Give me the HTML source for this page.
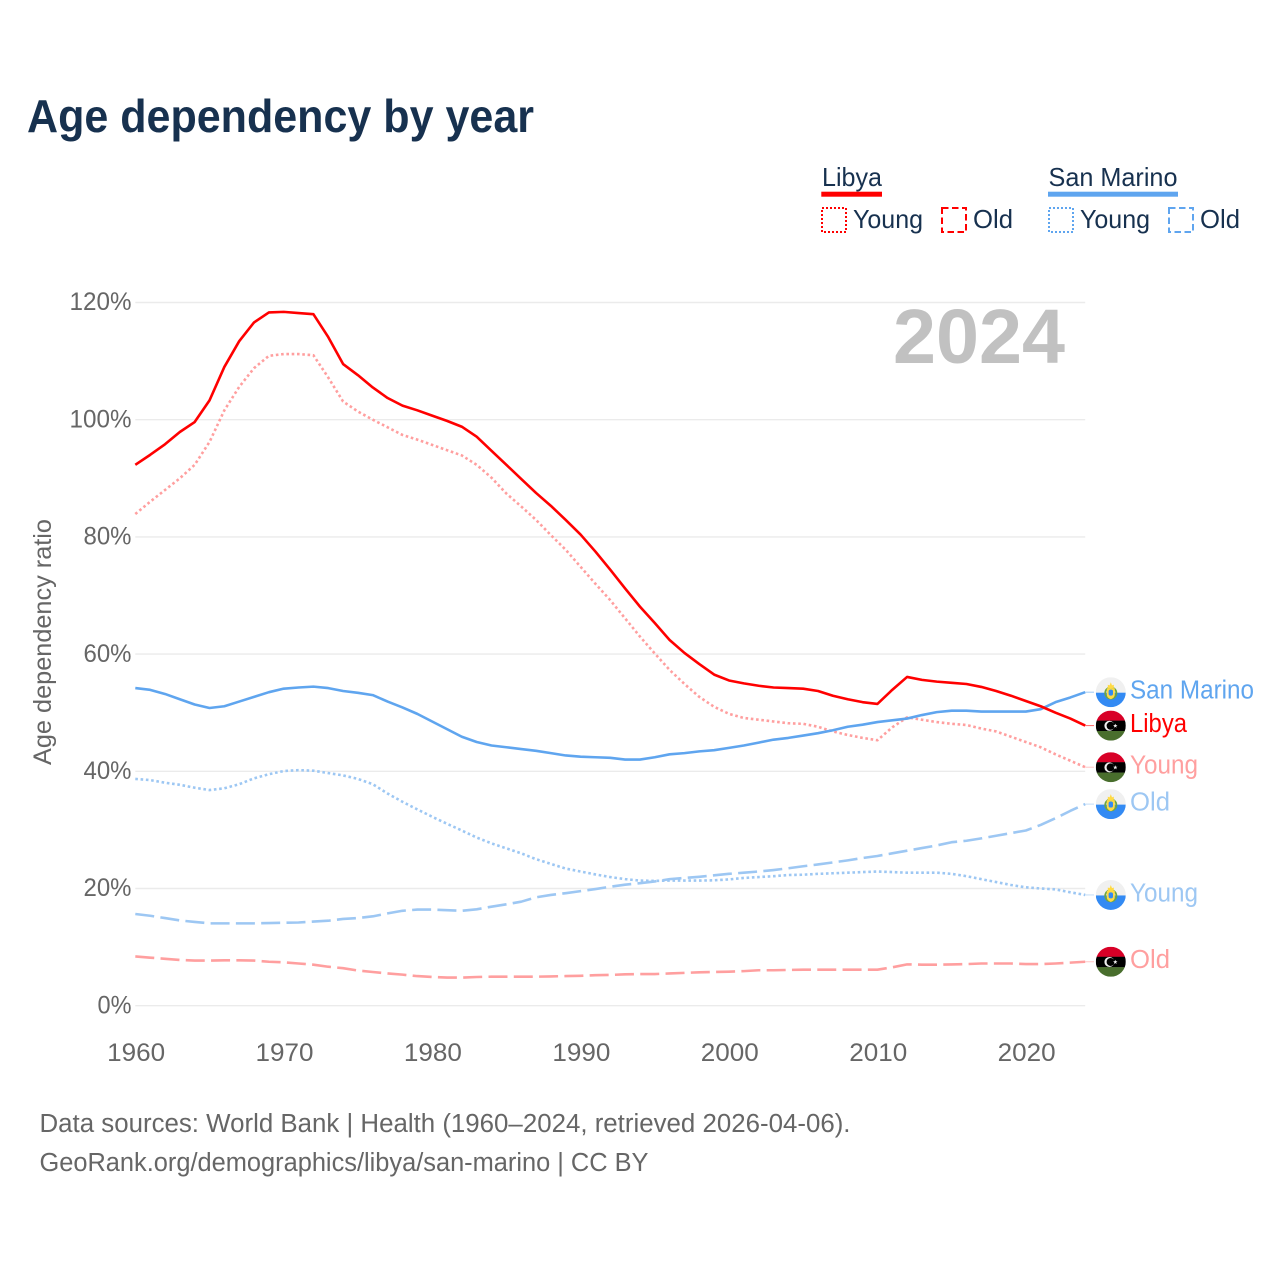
<!DOCTYPE html>
<html lang="en">
<head>
<meta charset="utf-8">
<title>Age dependency by year</title>
<style>
html,body{margin:0;padding:0;background:#fff;width:1280px;height:1280px;overflow:hidden}
svg{display:block;font-family:"Liberation Sans",sans-serif}
.dark{fill:#17314f}
.muted{fill:#666}
</style>
</head>
<body>
<svg id="chart" xmlns="http://www.w3.org/2000/svg" width="1280" height="1280" viewBox="0 0 1280 1280">
  <defs>
    <clipPath id="flag-clip"><circle cx="0" cy="0" r="15"/></clipPath>
    <g id="flag-libya" clip-path="url(#flag-clip)">
      <rect x="-15" y="-15" width="30" height="10.2" fill="#d80027"/>
      <rect x="-15" y="-5" width="30" height="10.6" fill="#000"/>
      <rect x="-15" y="5.4" width="30" height="9.6" fill="#496e2d"/>
      <circle cx="-1.4" cy="0.2" r="5" fill="#f0f0f0"/>
      <circle cx="-0.2" cy="0.2" r="4" fill="#000"/>
      <polygon points="4.5,-2 5.1,-0.5 6.7,-0.5 5.4,0.6 5.9,2.2 4.5,1.2 3.1,2.2 3.6,0.6 2.3,-0.5 3.9,-0.5" fill="#f0f0f0"/>
    </g>
    <g id="flag-san-marino" clip-path="url(#flag-clip)">
      <rect x="-15" y="-15" width="30" height="15.5" fill="#f0f0f0"/>
      <rect x="-15" y="0.5" width="30" height="14.5" fill="#338af3"/>
      <circle cx="0" cy="0.8" r="5.6" fill="none" stroke="#6da544" stroke-width="1.8"/>
      <path d="M-4,-4 L4,-4 L4,2 Q4,5.5 0,7 Q-4,5.5 -4,2 Z" fill="#ffda44"/>
      <path d="M-3,-4 L-3,-7.5 L-1.2,-6.8 L0,-10 L1.2,-6.8 L3,-7.5 L3,-4 Z" fill="#ffda44"/>
      <rect x="-2.2" y="-2.6" width="4.4" height="6" rx="1.8" fill="#338af3"/>
    </g>
  </defs>

  <text class="dark" x="27" y="132" font-size="46" font-weight="700" textLength="507" lengthAdjust="spacingAndGlyphs">Age dependency by year</text>

  <g>
    <text class="dark" x="822" y="186" font-size="26" textLength="60" lengthAdjust="spacingAndGlyphs">Libya</text>
    <rect x="821.3" y="191.7" width="60.7" height="5" fill="#ff0000"/>
    <rect x="822" y="208" width="24" height="24" fill="none" stroke="#ff0000" stroke-width="2" stroke-dasharray="2 2"/>
    <text class="dark" x="853" y="228" font-size="26" textLength="70" lengthAdjust="spacingAndGlyphs">Young</text>
    <rect x="942" y="208" width="24" height="24" fill="none" stroke="#ff0000" stroke-width="2" stroke-dasharray="6.5 3.5"/>
    <text class="dark" x="973" y="228" font-size="26" textLength="40" lengthAdjust="spacingAndGlyphs">Old</text>

    <text class="dark" x="1048.5" y="186" font-size="26" textLength="129" lengthAdjust="spacingAndGlyphs">San Marino</text>
    <rect x="1048" y="191.7" width="130" height="5" fill="#5fa5ef"/>
    <rect x="1049" y="208" width="24" height="24" fill="none" stroke="#5fa5ef" stroke-width="2" stroke-dasharray="2 2"/>
    <text class="dark" x="1080" y="228" font-size="26" textLength="70" lengthAdjust="spacingAndGlyphs">Young</text>
    <rect x="1169" y="208" width="24" height="24" fill="none" stroke="#5fa5ef" stroke-width="2" stroke-dasharray="6.5 3.5"/>
    <text class="dark" x="1200" y="228" font-size="26" textLength="40" lengthAdjust="spacingAndGlyphs">Old</text>
  </g>

  <g id="grid"></g>

  <text x="893" y="363" font-size="77" font-weight="700" fill="#c1c1c1" textLength="172" lengthAdjust="spacingAndGlyphs">2024</text>

  <text class="muted" transform="translate(51,642) rotate(-90)" text-anchor="middle" font-size="25" textLength="246" lengthAdjust="spacingAndGlyphs">Age dependency ratio</text>

  <g id="y-ticks"></g>
  <g id="x-ticks"></g>
  <g id="series"></g>
  <g id="end-labels"></g>

  <text class="muted" x="39.5" y="1132" font-size="25.5" textLength="811" lengthAdjust="spacingAndGlyphs">Data sources: World Bank | Health (1960–2024, retrieved 2026-04-06).</text>
  <text class="muted" x="39.5" y="1171" font-size="25.5" textLength="609" lengthAdjust="spacingAndGlyphs">GeoRank.org/demographics/libya/san-marino | CC BY</text>
</svg>

<script>
const startYear = 1960;
const endYear = 2024;
const yTickValues = [0, 20, 40, 60, 80, 100, 120];
const xTickValues = [1960, 1970, 1980, 1990, 2000, 2010, 2020];

const libyaTotal = [92.3,94,95.8,97.9,99.6,103.3,109,113.4,116.6,118.3,118.4,118.2,118,114.1,109.5,107.6,105.5,103.7,102.4,101.6,100.7,99.8,98.8,97.1,94.7,92.3,89.9,87.5,85.3,82.9,80.4,77.5,74.4,71.2,68.1,65.3,62.4,60.2,58.3,56.5,55.5,55,54.6,54.3,54.2,54.1,53.7,52.9,52.3,51.8,51.5,53.9,56.1,55.6,55.3,55.1,54.9,54.4,53.7,52.9,52,51.1,50,49,47.8];
const libyaYoung = [83.9,86,88,90,92.3,96.2,101.6,105.6,108.8,110.9,111.2,111.2,111,107.2,103.1,101.4,100,98.7,97.4,96.6,95.7,94.8,93.9,92.3,90.1,87.4,85.2,82.9,80.3,77.8,74.9,72,69.2,66.1,63,60.1,57.3,54.9,52.7,51,49.8,49.1,48.8,48.5,48.2,48.1,47.6,46.8,46.2,45.7,45.3,47.5,49.2,48.8,48.4,48.1,47.9,47.3,46.8,45.9,45,44.1,42.9,41.8,40.7];
const libyaOld = [8.4,8.2,8,7.8,7.7,7.7,7.75,7.75,7.7,7.5,7.4,7.2,7,6.65,6.4,6,5.75,5.5,5.3,5.05,4.9,4.8,4.8,4.9,4.95,4.95,4.95,4.95,5,5.05,5.1,5.2,5.25,5.35,5.4,5.4,5.5,5.6,5.7,5.75,5.8,5.9,6.05,6.05,6.1,6.15,6.15,6.15,6.15,6.15,6.15,6.55,7.05,7,7,7.05,7.1,7.2,7.2,7.2,7.1,7.1,7.2,7.35,7.5];
const sanMarinoTotal = [54.2,53.9,53.2,52.3,51.4,50.8,51.1,51.9,52.7,53.5,54.1,54.3,54.45,54.2,53.7,53.4,53,51.9,50.9,49.8,48.5,47.2,45.9,45,44.4,44.1,43.8,43.5,43.1,42.7,42.5,42.4,42.3,42,42,42.4,42.9,43.1,43.4,43.6,44,44.4,44.9,45.4,45.7,46.1,46.5,47,47.6,47.95,48.4,48.7,49,49.6,50.1,50.35,50.35,50.2,50.2,50.2,50.2,50.6,51.8,52.6,53.5];
const sanMarinoYoung = [38.7,38.5,38.05,37.7,37.2,36.8,37.1,37.8,38.8,39.5,40.05,40.2,40.1,39.7,39.3,38.7,37.8,36.2,34.8,33.5,32.25,31.05,29.9,28.7,27.7,26.85,26,25,24.2,23.4,22.9,22.4,21.95,21.6,21.35,21.3,21.35,21.35,21.35,21.4,21.55,21.8,21.95,22.1,22.3,22.35,22.5,22.6,22.7,22.8,22.9,22.8,22.7,22.7,22.7,22.5,22.1,21.6,21.1,20.6,20.2,20,19.85,19.35,18.9];
const sanMarinoOld = [15.65,15.35,14.95,14.55,14.3,14.05,14.05,14.05,14.05,14.1,14.15,14.2,14.35,14.5,14.8,14.95,15.25,15.75,16.2,16.4,16.4,16.3,16.2,16.45,16.9,17.3,17.75,18.5,18.9,19.2,19.55,19.9,20.3,20.65,20.9,21.2,21.6,21.8,22,22.25,22.5,22.7,22.9,23.15,23.45,23.8,24.1,24.45,24.8,25.2,25.55,26,26.45,26.9,27.35,27.9,28.15,28.55,29,29.45,29.9,30.85,32,33.25,34.4];

const NS = 'http://www.w3.org/2000/svg';
const plotLeft = 135.3, plotRight = 1085.2, yZero = 1005.7, pxPerPercent = 5.86;
function xScale(year) { return plotLeft + (year - startYear) * (plotRight - plotLeft) / (endYear - startYear); }
function yScale(pct) { return yZero - pct * pxPerPercent; }

const gridGroup = document.getElementById('grid');
const yTickGroup = document.getElementById('y-ticks');
yTickValues.forEach(function (v) {
  const line = document.createElementNS(NS, 'line');
  
  
  line.setAttribute('x1', plotLeft);
  line.setAttribute('x2', plotRight);
  line.setAttribute('y1', yScale(v));
  line.setAttribute('y2', yScale(v));
  line.setAttribute('stroke', '#ebebeb');
  line.setAttribute('stroke-width', '1.4');
  gridGroup.appendChild(line);

  const label = document.createElementNS(NS, 'text');
  
  
  label.setAttribute('class', 'muted');
  label.setAttribute('x', 131.5);
  label.setAttribute('y', yScale(v) + 7.7);
  label.setAttribute('text-anchor', 'end');
  label.setAttribute('font-size', '25');
  label.setAttribute('textLength', String(v).length * 14 + 20);
  label.setAttribute('lengthAdjust', 'spacingAndGlyphs');
  label.textContent = v + '%';
  yTickGroup.appendChild(label);
});

const xTickGroup = document.getElementById('x-ticks');
xTickValues.forEach(function (v) {
  const label = document.createElementNS(NS, 'text');
  
  
  label.setAttribute('class', 'muted');
  label.setAttribute('x', xScale(v) + 0.8);
  label.setAttribute('y', 1061);
  label.setAttribute('text-anchor', 'middle');
  label.setAttribute('font-size', '25');
  label.setAttribute('textLength', '58');
  label.setAttribute('lengthAdjust', 'spacingAndGlyphs');
  label.textContent = v;
  xTickGroup.appendChild(label);
});

const dotted = '2.6 2.7';
const dashed = '19 6.3';
const seriesGroup = document.getElementById('series');
const labelGroup = document.getElementById('end-labels');

function drawSeries(name, values, color, dash, flag, text, textWidth) {
  const path = document.createElementNS(NS, 'path');
  
  
  path.setAttribute('d', values.map(function (v, i) {
    return (i ? 'L' : 'M') + xScale(startYear + i).toFixed(2) + ',' + yScale(v).toFixed(2);
  }).join(' '));
  path.setAttribute('fill', 'none');
  path.setAttribute('stroke', color);
  path.setAttribute('stroke-width', '2.6');
  path.setAttribute('stroke-linejoin', 'round');
  if (dash) path.setAttribute('stroke-dasharray', dash);
  seriesGroup.appendChild(path);

  const endY = yScale(values[values.length - 1]);

  const connector = document.createElementNS(NS, 'line');
  
  
  connector.setAttribute('x1', plotRight);
  connector.setAttribute('x2', 1094);
  connector.setAttribute('y1', endY);
  connector.setAttribute('y2', endY);
  connector.setAttribute('stroke', color);
  connector.setAttribute('stroke-width', '1');
  connector.setAttribute('opacity', '0.6');
  labelGroup.appendChild(connector);

  const icon = document.createElementNS(NS, 'use');
  
  
  icon.setAttribute('href', '#' + flag);
  icon.setAttribute('x', 1110.8);
  icon.setAttribute('y', endY);
  labelGroup.appendChild(icon);

  const label = document.createElementNS(NS, 'text');
  
  
  label.setAttribute('x', 1130);
  label.setAttribute('y', endY + 6.4);
  label.setAttribute('font-size', '25.5');
  label.setAttribute('fill', color);
  label.setAttribute('textLength', textWidth);
  label.setAttribute('lengthAdjust', 'spacingAndGlyphs');
  label.textContent = text;
  labelGroup.appendChild(label);
}

drawSeries('san-marino-old', sanMarinoOld, '#9dc7f3', dashed, 'flag-san-marino', 'Old', 40);
drawSeries('san-marino-young', sanMarinoYoung, '#9dc7f3', dotted, 'flag-san-marino', 'Young', 68);
drawSeries('libya-old', libyaOld, '#ff9f9f', dashed, 'flag-libya', 'Old', 40);
drawSeries('libya-young', libyaYoung, '#ff9f9f', dotted, 'flag-libya', 'Young', 68);
drawSeries('san-marino-total', sanMarinoTotal, '#5fa5ef', null, 'flag-san-marino', 'San Marino', 124);
drawSeries('libya-total', libyaTotal, '#ff0000', null, 'flag-libya', 'Libya', 57);
</script>
</body>
</html>
